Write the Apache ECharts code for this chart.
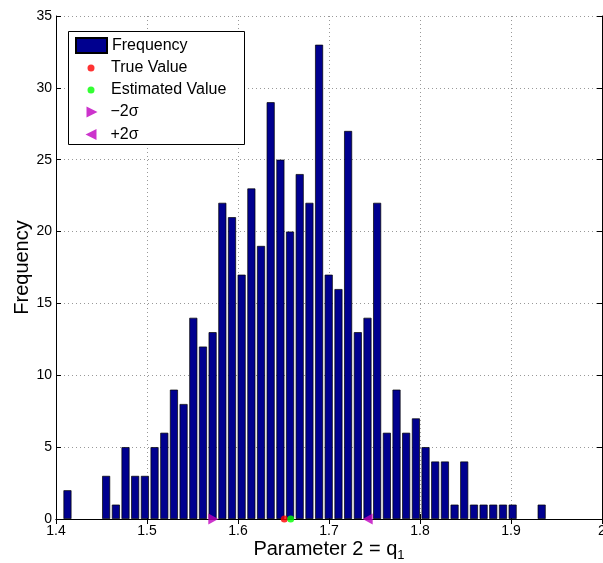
<!DOCTYPE html>
<html>
<head>
<meta charset="utf-8">
<script src="https://cdn.jsdelivr.net/npm/echarts@6/dist/echarts.min.js"></script>
<style>
  html, body { margin: 0; padding: 0; background: #fff; }
  #chart { width: 603px; height: 563px; }
</style>
</head>
<body>
<div id="chart"></div>
<script>
// histogram bins (centers) and counts
const binCenters = [
  1.4126, 1.4232, 1.4339, 1.4445, 1.4551, 1.4658, 1.4764, 1.4870, 1.4977, 1.5083,
  1.5190, 1.5296, 1.5402, 1.5509, 1.5615, 1.5721, 1.5828, 1.5934, 1.6040, 1.6147,
  1.6253, 1.6359, 1.6466, 1.6572, 1.6678, 1.6785, 1.6891, 1.6997, 1.7104, 1.7210,
  1.7317, 1.7423, 1.7529, 1.7636, 1.7742, 1.7848, 1.7955, 1.8061, 1.8167, 1.8274,
  1.8380, 1.8486, 1.8593, 1.8699, 1.8805, 1.8912, 1.9018, 1.9124, 1.9231, 1.9337
];
const counts = [
  2, 0, 0, 0, 3, 1, 5, 3, 3, 5,
  6, 9, 8, 14, 12, 13, 22, 21, 17, 23,
  19, 29, 25, 20, 24, 22, 33, 17, 16, 27,
  13, 14, 22, 6, 9, 6, 7, 5, 4, 4,
  1, 4, 1, 1, 1, 1, 1, 0, 0, 1
];
const trueValue = [1.6509];
const estimatedValue = [1.6579];
const minus2Sigma = [1.5729];
const plus2Sigma = [1.7425];

const FONT = 'Liberation Sans, Arial, Helvetica, sans-serif';
const triRight = 'path://M0,0L10,5L0,10Z';
const triLeft = 'path://M10,0L0,5L10,10Z';

const chart = echarts.init(document.getElementById('chart'));

// one legend per row so each icon can have its own size
function legendRow(name, icon, w, h, left, top, padLeft) {
  return {
    orient: 'vertical',
    left: left,
    top: top,
    padding: 0,
    itemWidth: w,
    itemHeight: h,
    icon: icon,
    selectedMode: false,
    z: 10,
    data: [name],
    textStyle: {
      fontFamily: FONT, fontSize: 16, lineHeight: 16, color: '#000',
      padding: [0, 0, 0, padLeft]
    }
  };
}

const tickStyle = { inside: true, length: 5, lineStyle: { color: '#000', width: 1 } };
const axisLineStyle = { show: true, lineStyle: { color: '#000', width: 1 } };
const gridLine = { show: true, lineStyle: { color: '#999', type: [1, 3], width: 1 } };

chart.setOption({
  animation: false,
  grid: { left: 56, right: 1, top: 16, bottom: 44, outerBoundsMode: 'none', containLabel: false },
  xAxis: [{
    type: 'value',
    min: 1.4, max: 2.0, interval: 0.1,
    name: 'Parameter 2 = q{sub|1}',
    nameLocation: 'middle',
    nameGap: 18,
    nameMoveOverlap: false,
    nameTextStyle: {
      fontFamily: FONT, fontSize: 20, color: '#000',
      rich: { sub: { fontFamily: FONT, fontSize: 13, color: '#000', padding: [12, 0, 0, 0] } }
    },
    axisLine: axisLineStyle,
    axisTick: tickStyle,
    axisLabel: {
      fontFamily: FONT, fontSize: 14, color: '#000', margin: 5,
      showMinLabel: true, showMaxLabel: true,
      formatter: v => String(+v.toFixed(1))
    },
    splitLine: gridLine
  }, {
    type: 'value', position: 'top',
    min: 1.4, max: 2.0, interval: 0.1,
    axisLine: axisLineStyle, axisTick: tickStyle,
    axisLabel: { show: false }, splitLine: { show: false }
  }],
  yAxis: [{
    type: 'value',
    min: 0, max: 35, interval: 5,
    name: 'Frequency',
    nameLocation: 'middle',
    nameGap: 24,
    nameMoveOverlap: false,
    nameTextStyle: { fontFamily: FONT, fontSize: 20, color: '#000' },
    axisLine: axisLineStyle,
    axisTick: tickStyle,
    axisLabel: { fontFamily: FONT, fontSize: 14, color: '#000', margin: 4 },
    splitLine: gridLine
  }, {
    type: 'value', position: 'right',
    min: 0, max: 35, interval: 5,
    axisLine: axisLineStyle, axisTick: tickStyle,
    axisLabel: { show: false }, splitLine: { show: false }
  }],
  graphic: [{
    type: 'rect',
    z: 5,
    shape: { x: 68.5, y: 31.5, width: 176, height: 113 },
    style: { fill: '#fff', stroke: '#000', lineWidth: 1 }
  }],
  legend: [
    legendRow('Frequency', 'rect', 31, 15, 75, 37, 0),
    legendRow('True Value', 'circle', 7, 7, 87.5, 60, 11.5),
    legendRow('Estimated Value', 'circle', 7, 7, 87.5, 82, 11.5),
    legendRow('\u22122\u03c3', triRight, 11, 11, 86.5, 104, 8),
    legendRow('+2\u03c3', triLeft, 11, 11, 85.5, 126.5, 9)
  ],
  series: [{
    name: 'Frequency',
    type: 'bar',
    barWidth: 8,
    // empty bins draw nothing
    data: binCenters.map((c, i) => [c, counts[i]]).filter(d => d[1] > 0),
    itemStyle: { color: '#00008f', borderColor: '#000', borderWidth: 0.7 }
  }, {
    name: 'True Value',
    type: 'scatter',
    symbol: 'circle', symbolSize: 7, clip: false, z: 5,
    data: trueValue.map(v => [v, 0]),
    itemStyle: { color: '#ff0000' }
  }, {
    name: 'Estimated Value',
    type: 'scatter',
    symbol: 'circle', symbolSize: 7, clip: false, z: 5,
    data: estimatedValue.map(v => [v, 0]),
    itemStyle: { color: '#00ff00' }
  }, {
    name: '\u22122\u03c3',
    type: 'scatter',
    symbol: triRight, symbolSize: [10, 11], clip: false, z: 5,
    data: minus2Sigma.map(v => [v, 0]),
    itemStyle: { color: '#bf00bf' }
  }, {
    name: '+2\u03c3',
    type: 'scatter',
    symbol: triLeft, symbolSize: [10, 11], clip: false, z: 5,
    data: plus2Sigma.map(v => [v, 0]),
    itemStyle: { color: '#bf00bf' }
  }]
});
</script>
</body>
</html>
